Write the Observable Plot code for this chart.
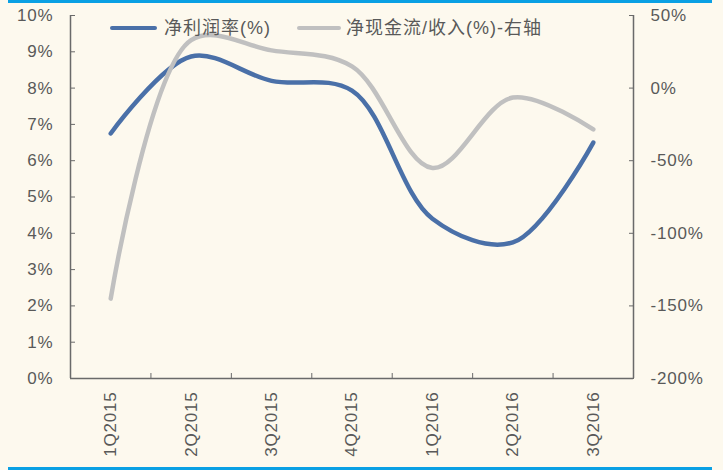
<!DOCTYPE html>
<html>
<head>
<meta charset="utf-8">
<script src="https://cdn.jsdelivr.net/npm/d3@7"></script>
<script src="https://cdn.jsdelivr.net/npm/@observablehq/plot@0.6"></script>
<style>
  html, body { margin: 0; padding: 0; background: #fdf9ee; }
  #wrap { position: relative; width: 723px; height: 470px; overflow: hidden; background: #fdf9ee; }
  .bar { position: absolute; left: 8px; width: 704px; height: 3px; background: #0aa0e4; }
  .sw { position: absolute; height: 4px; border-radius: 2px; }
  .lt { position: absolute; font-family: "Liberation Sans", "Noto Sans CJK SC", sans-serif; font-size: 18px; letter-spacing: 1px; color: #595959; white-space: nowrap; line-height: 20px; }
  #chart { position: absolute; left: 0; top: 0; }
</style>
</head>
<body>
<div id="wrap">
  <div class="bar" style="top:0"></div>
  <div class="bar" style="top:467px"></div>
  <div id="chart"></div>
  <div id="legend"></div>
</div>
<script>
// ---- data ----
const categories = ["1Q2015", "2Q2015", "3Q2015", "4Q2015", "1Q2016", "2Q2016", "3Q2016"];
const netMargin = [6.75, 8.87, 8.2, 7.93, 4.4, 3.75, 6.5];           // 净利润率(%) – left axis
const cashRatio = [-145, 33, 26, 15, -55, -6.5, -28.5];              // 净现金流/收入(%) – right axis
const leftTicks = [0, 1, 2, 3, 4, 5, 6, 7, 8, 9, 10];
const rightTicks = [50, 0, -50, -100, -150, -200];
const seriesNames = ["净利润率(%)", "净现金流/收入(%)-右轴"];
const seriesColors = ["#4a70a8", "#c0c0c0"];

// right axis [-200, 50] mapped onto left axis [0, 10]
const rMin = -200, rMax = 50, lMin = 0, lMax = 10;
const toLeft = v => lMin + (v - rMin) / (rMax - rMin) * (lMax - lMin);
const toRight = v => rMin + (v - lMin) / (lMax - lMin) * (rMax - rMin);

const idx = categories.map((_, i) => i);
const xDomain = [-0.5, categories.length - 0.5];
const bounds = idx.slice(1).map(i => i - 0.5);

const textColor = "#595959";
const axisColor = "#6a6a6a";

const chart = Plot.plot({
  width: 723,
  height: 470,
  marginLeft: 70,
  marginRight: 90,
  marginTop: 15,
  marginBottom: 92,
  style: {
    background: "transparent",
    fontFamily: "'Liberation Sans', Arial, sans-serif",
    fontSize: "17px",
    letterSpacing: "0.8px",
    color: textColor
  },
  x: { domain: xDomain },
  y: { domain: [lMin, lMax] },
  marks: [
    // frame lines
    Plot.ruleY([lMin], { stroke: axisColor, strokeWidth: 1.5 }),
    Plot.ruleX(xDomain, { y1: lMin, y2: lMax, stroke: axisColor, strokeWidth: 1.5 }),
    // left axis: inward ticks + labels
    Plot.axisY({ ticks: leftTicks, anchor: "left", tickSize: 5, dx: 5, tickFormat: () => "", label: null, stroke: axisColor }),
    Plot.axisY({ ticks: leftTicks, anchor: "left", tickSize: 0, tickPadding: 17, tickFormat: d => d + "%", label: null }),
    // right axis: inward ticks + labels
    Plot.axisY({ ticks: rightTicks.map(toLeft), anchor: "right", tickSize: 5, dx: -5, tickFormat: () => "", label: null, stroke: axisColor }),
    Plot.axisY({ ticks: rightTicks.map(toLeft), anchor: "right", tickSize: 0, tickPadding: 17, tickFormat: d => Math.round(toRight(d)) + "%", label: null }),
    // x axis: inward ticks at category boundaries + rotated labels
    Plot.axisX({ ticks: bounds, anchor: "bottom", tickSize: 5, dy: -5, tickFormat: () => "", label: null, stroke: axisColor }),
    Plot.axisX({ ticks: idx, anchor: "bottom", tickSize: 0, tickPadding: 13, tickRotate: -90, tickFormat: i => categories[i], label: null }),
    // series
    Plot.line(idx, { x: i => i, y: i => netMargin[i], curve: "catmull-rom", stroke: seriesColors[0], strokeWidth: 4.5, strokeLinecap: "round" }),
    Plot.line(idx, { x: i => i, y: i => toLeft(cashRatio[i]), curve: "catmull-rom", stroke: seriesColors[1], strokeWidth: 4.5, strokeLinecap: "round" })
  ]
});
document.getElementById("chart").appendChild(chart);

// legend (HTML overlay)
const legend = document.getElementById("legend");
const legendLayout = [
  { sw: [110, 47], tx: 164 },
  { sw: [297, 44], tx: 346 }
];
seriesNames.forEach((name, k) => {
  const s = document.createElement("div");
  s.className = "sw";
  s.style.left = legendLayout[k].sw[0] + "px";
  s.style.width = legendLayout[k].sw[1] + "px";
  s.style.top = "26px";
  s.style.background = seriesColors[k];
  legend.appendChild(s);
  const t = document.createElement("div");
  t.className = "lt";
  t.style.left = legendLayout[k].tx + "px";
  t.style.top = "18px";
  t.textContent = name;
  legend.appendChild(t);
});
</script>
</body>
</html>
